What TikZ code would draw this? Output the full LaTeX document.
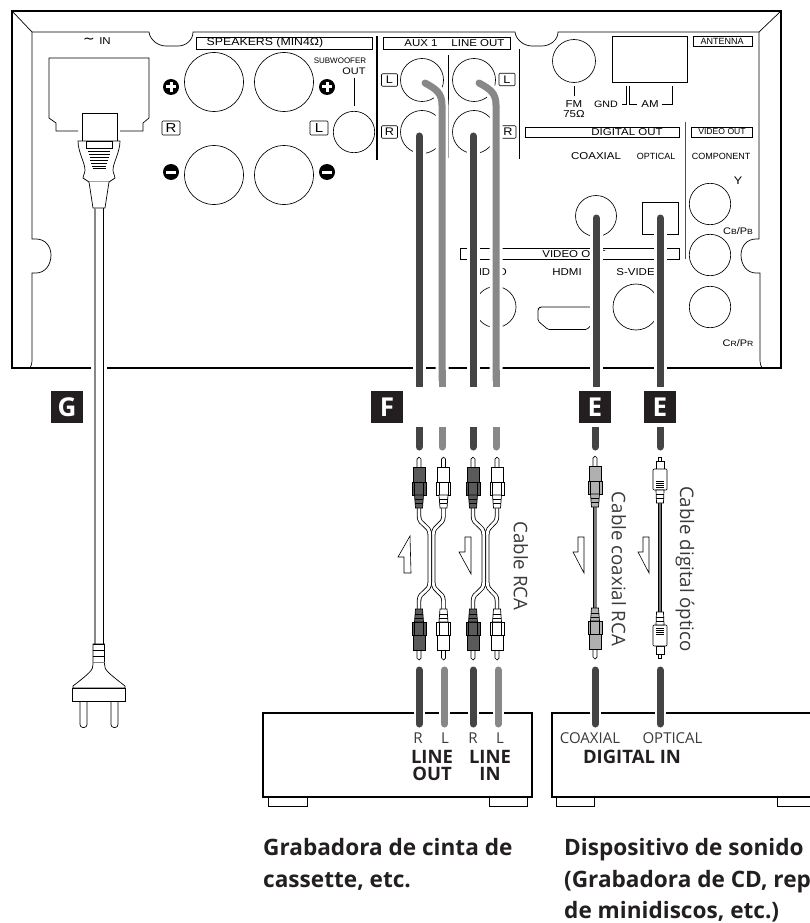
\documentclass[tikz,border=0pt]{standalone}
\usepackage{fontspec}
\setmainfont{Open Sans}
\newfontfamily\panelfont[FakeStretch=1.15]{Liberation Sans}
\newfontfamily\subfont{Liberation Sans}
\newfontfamily\symfont{DejaVu Sans}
\definecolor{darkc}{HTML}{444444}
\definecolor{grayc}{HTML}{888888}
\definecolor{ink}{HTML}{231F20}
\definecolor{txt}{HTML}{3A3A3A}
\definecolor{plugdark}{HTML}{5A5A5A}
\definecolor{pluggray}{HTML}{B0B0B0}
\tikzset{
  thinl/.style={draw=black,line width=0.7pt},
  frame/.style={draw=black,line width=1.5pt,line join=miter},
  jack/.style={draw=black,line width=0.65pt,fill=none},
  ptxt/.style={font=\panelfont\fontsize{10}{10}\selectfont,inner sep=0pt,text=black},
  stxt/.style={font=\subfont\fontsize{9}{9}\selectfont,inner sep=0pt,text=black},
  lblbox/.style={draw=black,line width=0.6pt,rounded corners=1pt,minimum width=16pt,minimum height=12.5pt,inner sep=0pt,font=\panelfont\fontsize{11}{11}\selectfont},
  lblbig/.style={lblbox,minimum width=18pt,minimum height=14pt,font=\panelfont\fontsize{13}{13}\selectfont},
  badge/.style={fill=ink,text=white,minimum size=32pt,inner sep=0pt,font=\bfseries\fontsize{26}{26}\selectfont},
  darkcable/.style={draw=darkc,line width=7pt,line cap=round},
  graycable/.style={draw=grayc,line width=7pt,line cap=round},
  halo/.style={draw=white,line width=13pt,line cap=round},
  halob/.style={draw=white,line width=11pt},
  devlbl/.style={font=\fontsize{15}{15}\selectfont,text=txt,inner sep=0pt},
  devbold/.style={font=\bfseries\fontsize{18.5}{18.5}\selectfont,text=ink,inner sep=0pt},
  captxt/.style={font=\bfseries\fontsize{22.6}{22.6}\selectfont,text=ink,inner sep=0pt,anchor=base west},
  sidetxt/.style={font=\fontsize{18.7}{18.7}\selectfont,text=txt,inner sep=0pt,rotate=-90},
  arrowshape/.style={draw=black,line width=0.6pt,fill=white,line join=miter},
  pl/.style={draw=black,line width=0.7pt},
  prong/.style={draw=black,line width=0.7pt,fill=white,rounded corners=3pt},
}
\newcommand\rcaplug[4]{%
\begin{scope}[shift={(#1,#2)},yscale=#3]
 \draw[pl,fill=white,line join=round] (-2,11) -- (-2,2) -- (0,0) -- (2,2) -- (2,11);
 \draw[pl,fill=#4] (-6,10) rectangle (6,25);
 \draw[pl,fill=#4] (-7,25) rectangle (7,38);
 \draw[pl] (-4.5,25) -- (-4.5,38) (4.5,25) -- (4.5,38);
 \draw[pl,fill=#4] (-4.5,38) -- (-3.5,51) -- (3.5,51) -- (4.5,38) -- cycle;
 \draw[pl] (-4.2,42) -- (4.2,42) (-3.8,46) -- (3.8,46);
\end{scope}}
\newcommand\optplug[3]{%
\begin{scope}[shift={(#1,#2)},yscale=#3]
 \draw[pl,fill=white] (-1.5,0) rectangle (1.5,4);
 \draw[pl,fill=white] (-4,4) rectangle (4,12);
 \draw[pl,fill=white,rounded corners=1pt] (-7,12) rectangle (7,33);
 \draw[pl] (-4,24) -- (4,24) (-4,26) -- (4,26) (-4,28) -- (4,28) (-4,30) -- (4,30);
 \draw[pl,fill=white] (-4,33) -- (-3.5,46) -- (3.5,46) -- (4,33) -- cycle;
 \draw[pl] (-3.8,37) -- (3.8,37) (-3.6,41) -- (3.6,41);
\end{scope}}
\newcommand\ytube[3]{% outer x, inner x, (unused)
 \draw[black,line width=4.4pt] (#1,506) -- (#1,516) .. controls (#1,526) and (#2,524) .. (#2,535) -- (#2,582) .. controls (#2,593) and (#1,591) .. (#1,601) -- (#1,610);
 \draw[white,line width=2.8pt] (#1,506) -- (#1,516) .. controls (#1,526) and (#2,524) .. (#2,535) -- (#2,582) .. controls (#2,593) and (#1,591) .. (#1,601) -- (#1,610);
}
\begin{document}
\begin{tikzpicture}[x=1pt,y=-1pt]
\useasboundingbox (0,0) rectangle (810,923);
% ---- rear panel
\draw[frame] (12,11) -- (781,11) -- (781,368) -- (12,368) -- cycle;
\draw[thinl] (12,11) -- (32,32) -- (149,32) .. controls (150,40) and (158,46) .. (166,46) -- (178,46) .. controls (186,46) and (193,40) .. (193,32) -- (515,32) .. controls (516,40) and (524,46) .. (532,46) -- (542,46) .. controls (550,46) and (558,40) .. (558,32) -- (759,32) -- (781,11);
\draw[thinl] (32,32) -- (32,239) -- (36,239) .. controls (45,239) and (51,246) .. (51,255) .. controls (51,265) and (45,273) .. (36,273) -- (32,273) -- (32,360) .. controls (32,364) and (31,366) .. (30,368);
\draw[thinl] (759,32) -- (759,239) -- (756,239) .. controls (747,239) and (741,246) .. (741,255) .. controls (741,265) and (747,273) .. (756,273) -- (760,273) -- (760,360) .. controls (760,364) and (761,366) .. (762,368);
% speakers
\draw[thinl] (196,37) rectangle (372,49);
\node[ptxt,font=\panelfont\fontsize{10.7}{10.7}\selectfont] (spk) at (265,43) {SPEAKERS (MIN4Ω)};
\foreach \px/\py in {214/82,284/82,214/175,284/175}{\draw[jack] (\px,\py) circle (29.5);}
\draw[jack] (354,132) circle (20.7);
\foreach \px in {171,327}{
 \fill[black] (\px,87) circle (8);
 \draw[white,line width=3pt] (\px-5,87) -- (\px+5,87) (\px,82) -- (\px,92);
 \fill[black] (\px,172) circle (8);
 \draw[white,line width=3pt] (\px-5,172) -- (\px+5,172);
}
\node[lblbig] (rl) at (171,128) {R};
\node[lblbig] (ll) at (319,128) {L};
\node[inner sep=0pt,font=\subfont\fontsize{8}{8}\selectfont] (sub) at (340,61) {SUBWOOFER};
\node[ptxt,font=\panelfont\fontsize{9.5}{9.5}\selectfont] (outt) at (354,71) {OUT};
\draw[black,line width=1pt] (354,78) -- (354,106);
\draw[black,line width=1.2pt] (377,36) -- (377,160);
% aux / line out
\draw[thinl] (383,37) rectangle (510,49);
\node[ptxt] (aux) at (421,43) {AUX 1};
\node[ptxt] (lout) at (478,43) {LINE OUT};
\foreach \px/\py in {422/80,474/80,422/132,474/132}{\draw[jack] (\px,\py) circle (21.5);}
\node[lblbox] (a1) at (389.5,80) {L};
\node[lblbox] (a2) at (389.5,132) {R};
\node[lblbox] (a3) at (507,79.5) {L};
\node[lblbox] (a4) at (508,132) {R};
\draw[black,line width=0.7pt] (448,55) -- (448,158);
\draw[black,line width=0.7pt] (519,49) -- (519,159);
% antenna
\draw[jack] (574,61) circle (21.5);
\draw[black,line width=0.7pt] (574,86) -- (574,96);
\node[ptxt] (fm) at (574,104) {FM};
\node[ptxt] (fm75) at (574,114) {75Ω};
\draw[thinl] (612,36) rectangle (687,82);
\node[ptxt,font=\panelfont\fontsize{9.3}{9.3}\selectfont] (gnd) at (606,104) {GND};
\node[ptxt] (am) at (650,104) {AM};
\draw[thinl] (622,104) -- (626,104) -- (626,86) (629,86) -- (629,104) -- (637,104) (662,104) -- (672,104) -- (672,86);
\draw[thinl] (693,36) rectangle (752,46);
\node[stxt] (ant) at (722,41) {ANTENNA};
% digital out
\draw[thinl] (525,127) rectangle (679,137);
\node[ptxt] (dout) at (627,132) {DIGITAL OUT};
\node[ptxt] (cx) at (596,156) {COAXIAL};
\node[stxt] (op) at (656,156) {OPTICAL};
\draw[jack] (596,216) circle (20.5);
\draw[thinl] (642,202) rectangle (678,234);
% video out right
\draw[draw=black!70,line width=0.8pt] (685,122) -- (685,259);
\draw[thinl] (691,127) rectangle (752,137);
\node[stxt,font=\subfont\fontsize{8.6}{8.6}\selectfont] (vo1) at (722,132) {VIDEO OUT};
\node[stxt] (comp) at (721,156) {COMPONENT};
\node[ptxt,font=\panelfont\fontsize{11}{11}\selectfont] (yy) at (738,181) {Y};
\node[ptxt,font=\panelfont\fontsize{9.5}{9.5}\selectfont] (cb) at (738,231) {C{\fontsize{7.5}{7.5}\selectfont B}/P{\fontsize{7.5}{7.5}\selectfont B}};
\node[ptxt,font=\panelfont\fontsize{9.5}{9.5}\selectfont] (cr) at (738,343) {C{\fontsize{7.5}{7.5}\selectfont R}/P{\fontsize{7.5}{7.5}\selectfont R}};
\foreach \py in {204,255,307}{\draw[jack] (710,\py) circle (20.7);}
% video out bottom
\draw[thinl] (460,248) rectangle (679,259);
\node[ptxt] (vo2) at (574,254) {VIDEO OUT};
\node[ptxt] (v1) at (489,272) {VIDEO};
\node[ptxt] (v2) at (567,272) {HDMI};
\node[ptxt] (v3) at (640,272) {S-VIDEO};
\draw[jack] (495.5,307) circle (20.5);
\draw[jack] (636,307) circle (23);
\draw[thinl,rounded corners=1.5pt] (600,307) -- (540,307) -- (538,309) -- (538,321) -- (548,329.5) -- (587,329.5) -- (595,321);
% ---- mains inlet and cord
\node[inner sep=0pt,font=\symfont\fontsize{14}{14}\selectfont] (sin) at (89,41) {∼};
\node[ptxt] (inn) at (105,41) {IN};
\draw[thinl] (78,131) -- (56,131) -- (56,123) -- (49,118) -- (49,58) -- (149,58) -- (149,118) -- (143,123) -- (143,131) -- (120,131);
\draw[thinl,fill=white] (82,113) rectangle (117,141);
\draw[thinl,fill=white] (78,141) -- (120,141) .. controls (120,152) and (113,163) .. (113,170) .. controls (113,174) and (115.5,176) .. (115,178) -- (109,182) -- (89,182) -- (83,178) .. controls (82.5,176) and (85,174) .. (85,170) .. controls (85,163) and (78,152) .. (78,141) -- cycle;
\draw[thinl] (86,141) rectangle (112,148);
\foreach \yy/\xx in {151/11,154/10.5,157/9.5,160/9,163/8,166/7,168/6.5}{\draw[black,line width=0.8pt] (99-\xx,\yy) -- (99+\xx,\yy);}
\draw[thinl,fill=white] (89,182) -- (93,208) -- (105,208) -- (109,182);
\fill[white] (91,363) rectangle (107,373);
\draw[draw=grayc,line width=1.6pt] (95,208) -- (95,644);
\draw[black,line width=0.9pt] (103,208) -- (103,644);
\draw[thinl,fill=white] (93,644) -- (93,664) .. controls (93,670) and (91,672) .. (73,686) -- (73,688) -- (125,688) -- (125,686) .. controls (107,672) and (104.5,670) .. (104.5,664) -- (104.5,644) -- cycle;
\draw[black,line width=1pt] (93,644) -- (104.5,644);
\draw[black,line width=0.7pt] (93,650) -- (104.5,650);
\draw[black,line width=0.7pt] (93,656) -- (104.5,656);
\draw[black!50,line width=0.7pt] (93,662) -- (104.5,662);
\draw[prong] (80,701) -- (80,727.5) -- (87,727.5) -- (87,701);
\draw[prong] (111,701) -- (111,727.5) -- (118,727.5) -- (118,701);
\draw[black,line width=1pt] (72.5,688) rectangle (125.5,701);
% ---- panel cables
\draw[halo] (419,133) -- (419,387);
\draw[halo] (473,133) -- (473,387);
\draw[halo] (425,83) .. controls (436,89) and (442,93) .. (442,105) -- (442,387);
\draw[halo] (479,83) .. controls (490,89) and (496,93) .. (496,105) -- (496,387);
\draw[halo] (596,215) -- (596,387);
\draw[halo] (660,215) -- (660,387);
\draw[darkcable,line cap=butt] (419,136) -- (419,387);
\draw[darkcable] (419,136) -- (419,137);
\draw[darkcable,line cap=butt] (473,136) -- (473,387);
\draw[darkcable] (473,136) -- (473,137);
\draw[graycable,line cap=round] (425,83) .. controls (436,89) and (442,93) .. (442,105) -- (442,380);
\draw[graycable,line cap=butt] (442,370) -- (442,387);
\draw[graycable,line cap=round] (479,83) .. controls (490,89) and (496,93) .. (496,105) -- (496,380);
\draw[graycable,line cap=butt] (496,370) -- (496,387);
\draw[darkcable,line cap=butt] (596,218) -- (596,387);
\draw[darkcable] (596,218) -- (596,219);
\draw[darkcable,line cap=butt] (660,218) -- (660,387);
\draw[darkcable] (660,218) -- (660,219);
% badges
\node[badge] (bg) at (67,407) {G};
\node[badge] (bf) at (387,407) {F};
\node[badge] (be1) at (595,407) {E};
\node[badge] (be2) at (660,407) {E};
% stubs below badges
\draw[darkcable,line cap=butt] (419,427) -- (419,446);
\draw[darkcable] (419,446) -- (419,447);
\draw[graycable,line cap=butt] (442,427) -- (442,446);
\draw[graycable] (442,446) -- (442,447);
\draw[darkcable,line cap=butt] (473,427) -- (473,446);
\draw[darkcable] (473,446) -- (473,447);
\draw[graycable,line cap=butt] (496,427) -- (496,446);
\draw[graycable] (496,446) -- (496,447);
\draw[darkcable,line cap=butt] (595,427) -- (595,446);
\draw[darkcable] (595,446) -- (595,447);
\draw[darkcable,line cap=butt] (660,427) -- (660,446);
\draw[darkcable] (660,446) -- (660,447);
% ---- RCA leads
\ytube{443.5}{433.2}{}
\ytube{419}{429.8}{}
\ytube{497}{487.2}{}
\ytube{473}{483.8}{}
\rcaplug{419}{457}{1}{plugdark}
\rcaplug{443.5}{457}{1}{white}
\rcaplug{473}{457}{1}{plugdark}
\rcaplug{497}{457}{1}{white}
\rcaplug{419}{660}{-1}{plugdark}
\rcaplug{443.5}{660}{-1}{white}
\rcaplug{473}{660}{-1}{plugdark}
\rcaplug{497}{660}{-1}{white}
% coaxial and optical leads
\draw[black,line width=4.6pt] (595,505) -- (595,610);
\draw[pluggray!70!black,line width=3pt] (595,505) -- (595,610);
\rcaplug{595}{456}{1}{pluggray}
\rcaplug{595}{659}{-1}{pluggray}
\draw[black,line width=4.6pt] (660,500) -- (660,615);
\draw[black!55,line width=2.8pt] (660,500) -- (660,615);
\optplug{660}{457}{1}
\optplug{660}{658}{-1}
% hollow arrows
\draw[arrowshape] (410,536) -- (398,557) -- (404,557) -- (404,573) -- (411,573) -- cycle;
\draw[arrowshape] (465,537) -- (471,537) -- (471,574) -- (459,552) -- (465,552) -- cycle;
\draw[arrowshape] (578,537) -- (584,537) -- (584,573) -- (573,552) -- (578,552) -- cycle;
\draw[arrowshape] (643,537) -- (649,537) -- (649,573) -- (638,552) -- (643,552) -- cycle;
% side labels
\node[sidetxt] (s1) at (521,566) {Cable RCA};
\node[sidetxt] (s2) at (619,569) {Cable coaxial RCA};
\node[sidetxt] (s3) at (685,569) {Cable digital óptico};
% ---- devices
\draw[black,line width=1.3pt] (263,713) rectangle (532,797);
\draw[black,line width=1pt] (268,797) -- (268,806) -- (307,806) -- (307,797);
\draw[black,line width=1pt] (489,797) -- (489,806) -- (527,806) -- (527,797);
\draw[black,line width=1.3pt] (815,713) -- (552,713) -- (552,797) -- (815,797);
\draw[black,line width=1pt] (556,797) -- (556,806) -- (594,806) -- (594,797);
\draw[black,line width=1pt] (815,806) -- (777,806) -- (777,797);
\foreach \cx in {419,444,473,498,595,660}{\draw[halob] (\cx,705) -- (\cx,720);}
\draw[darkcable] (419,670) -- (419,724);
\draw[graycable] (444.5,670) -- (444.5,724);
\draw[darkcable] (473,670) -- (473,724);
\draw[graycable] (498,670) -- (498,724);
\draw[darkcable] (595,670) -- (595,724);
\draw[darkcable] (660,670) -- (660,724);
\node[devlbl] (t1) at (418,738) {R};
\node[devlbl] (t2) at (445,738) {L};
\node[devlbl] (t3) at (473,738) {R};
\node[devlbl] (t4) at (500,738) {L};
\node[devbold] (t5) at (432,757) {LINE};
\node[devbold] (t6) at (432,774) {OUT};
\node[devbold] (t7) at (490,757) {LINE};
\node[devbold] (t8) at (490,774) {IN};
\node[devlbl] (t9) at (590,738) {COAXIAL};
\node[devlbl] (t10) at (672.5,738) {OPTICAL};
\node[devbold] (t11) at (632,757) {DIGITAL IN};
\node[captxt] (c1) at (263,855) {Grabadora de cinta de};
\node[captxt] (c2) at (263,887) {cassette, etc.};
\node[captxt] (c3) at (564,855) {Dispositivo de sonido};
\node[captxt] (c4) at (564,887) {(Grabadora de CD, rep};
\node[captxt] (c5) at (564,918) {de minidiscos, etc.)};
\end{tikzpicture}
\end{document}
